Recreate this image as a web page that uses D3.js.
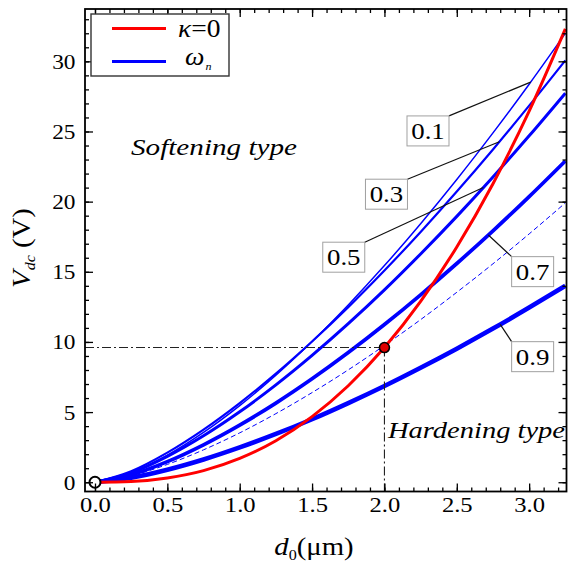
<!DOCTYPE html>
<html>
<head>
<meta charset="utf-8">
<script src="https://cdn.jsdelivr.net/npm/d3@7/dist/d3.min.js"></script>
<style>
  body { margin: 0; background: #fff; }
  svg { display: block; }
  text { font-family: "Liberation Serif", "Times New Roman", serif; fill: #000; }
</style>
</head>
<body>
<svg id="chart" width="568" height="569" font-family="Liberation Serif"></svg>
<script>
// Gap distance d0 (µm) at which each curve is sampled
const gapValues = [0, 0.25, 0.5, 0.75, 1.0, 1.25, 1.5, 1.75, 2.0, 2.25, 2.5, 2.75, 3.0, 3.25];

// DC voltage (V) for the κ = 0 boundary curve
const kappaZeroVdc = [0, 0.05, 0.30, 0.83, 1.70, 2.96, 4.68, 6.88, 9.60, 12.89, 16.77, 21.28, 26.45, 32.31];

// DC voltage (V) for the ω_n curves, one per κ value
const omegaKappa01 = [0, 0.68, 1.93, 3.55, 5.46, 7.63, 10.03, 12.64, 15.44, 18.43, 21.58, 24.90, 28.37, 31.99];
const omegaKappa03 = [0, 0.79, 2.11, 3.75, 5.64, 7.74, 10.03, 12.48, 15.09, 17.84, 20.72, 23.72, 26.84, 30.07];
const omegaKappa05 = [0, 0.67, 1.84, 3.31, 5.02, 6.94, 9.04, 11.30, 13.71, 16.27, 18.95, 21.76, 24.69, 27.73];
const omegaKappa07 = [0, 0.53, 1.47, 2.67, 4.07, 5.64, 7.37, 9.24, 11.24, 13.36, 15.59, 17.92, 20.36, 22.90];
const omegaKappa09 = [0, 0.32, 0.89, 1.62, 2.48, 3.44, 4.49, 5.64, 6.86, 8.16, 9.52, 10.95, 12.45, 14.00];
// thin dashed ω_n curve between κ = 0.7 and κ = 0.9
const omegaDashed  = [0, 0.46, 1.27, 2.31, 3.52, 4.89, 6.39, 8.01, 9.75, 11.59, 13.54, 15.57, 17.70, 19.91];

const kappaLabels = ["0.1", "0.3", "0.5", "0.7", "0.9"];

// Axis ticks
const xMajorTicks = [0, 0.5, 1.0, 1.5, 2.0, 2.5, 3.0];
const xMinorTicks = d3.range(0, 33).map(i => i / 10);
const yMajorTicks = [0, 5, 10, 15, 20, 25, 30];
const yMinorTicks = d3.range(0, 34);

// Transition point where the κ = 0 curve is marked
const transitionPoint = { d: 2.0, v: 9.6 };
const originPoint = { d: 0, v: 0 };

// ---------------------------------------------------------------------
const svg = d3.select("#chart");
const plotLeft = 85, plotRight = 566.5, plotTop = 9, plotBottom = 491.5;

const x = d3.scaleLinear().domain([-0.069, 3.258]).range([plotLeft, plotRight]);
const y = d3.scaleLinear().domain([-0.66, 33.73]).range([plotBottom, plotTop]);

svg.append("defs").append("clipPath").attr("id", "plotClip")
  .append("rect").attr("x", plotLeft).attr("y", plotTop)
  .attr("width", plotRight - plotLeft).attr("height", plotBottom - plotTop);

const toPoints = vals => gapValues.map((d, i) => [d, vals[i]]);
const line = d3.line().x(p => x(p[0])).y(p => y(p[1])).curve(d3.curveMonotoneX);

const plot = svg.append("g").attr("clip-path", "url(#plotClip)");

// reference dash-dot lines through the transition point
const refLines = svg.append("g")
  .attr("stroke", "#222").attr("stroke-width", 1.1)
  .attr("stroke-dasharray", "9,3,2,3").attr("fill", "none");
refLines.append("line")
  .attr("x1", plotLeft).attr("x2", x(transitionPoint.d))
  .attr("y1", y(transitionPoint.v)).attr("y2", y(transitionPoint.v));
refLines.append("line")
  .attr("x1", x(transitionPoint.d)).attr("x2", x(transitionPoint.d))
  .attr("y1", y(transitionPoint.v)).attr("y2", plotBottom);

// ω_n curves
const omegaSeries = [
  { vals: omegaDashed,  width: 1.0, dash: "5,3" },
  { vals: omegaKappa09, width: 4.6 },
  { vals: omegaKappa07, width: 3.7 },
  { vals: omegaKappa05, width: 3.0 },
  { vals: omegaKappa03, width: 2.2 },
  { vals: omegaKappa01, width: 1.5 }
];
omegaSeries.forEach(s => {
  plot.append("path")
    .datum(toPoints(s.vals))
    .attr("d", line)
    .attr("fill", "none")
    .attr("stroke", "#0000ff")
    .attr("stroke-width", s.width)
    .attr("stroke-dasharray", s.dash || null);
});

// κ = 0 curve
plot.append("path")
  .datum(toPoints(kappaZeroVdc))
  .attr("d", line)
  .attr("fill", "none")
  .attr("stroke", "#ff0000")
  .attr("stroke-width", 3);

// markers
svg.append("circle")
  .attr("cx", x(transitionPoint.d)).attr("cy", y(transitionPoint.v)).attr("r", 5)
  .attr("fill", "#e00000").attr("stroke", "#000").attr("stroke-width", 1.6);
svg.append("circle")
  .attr("cx", x(originPoint.d)).attr("cy", y(originPoint.v)).attr("r", 5.5)
  .attr("fill", "#fff").attr("stroke", "#000").attr("stroke-width", 2);

// ---------------------------------------------------------------------
// Axes: ticks point inward on all four sides
function styleAxis(g) {
  g.attr("font-family", null);
  g.select(".domain").remove();
  g.selectAll("line").attr("stroke", "#000").attr("stroke-width", 1.3);
}
const fmtX = d3.format(".1f");

svg.append("g").attr("transform", `translate(0,${plotBottom})`)
  .call(d3.axisBottom(x).tickValues(xMinorTicks).tickSize(-4).tickFormat(""))
  .call(styleAxis);
svg.append("g").attr("transform", `translate(0,${plotBottom})`)
  .call(d3.axisBottom(x).tickValues(xMajorTicks).tickSize(-8).tickPadding(5).tickFormat(fmtX))
  .call(styleAxis)
  .call(g => g.selectAll("text").attr("font-size", 22).attr("transform", "scale(1.12,1)")
    .attr("font-family", "Liberation Serif").attr("fill", "#000"));

svg.append("g").attr("transform", `translate(0,${plotTop})`)
  .call(d3.axisTop(x).tickValues(xMinorTicks).tickSize(-4).tickFormat(""))
  .call(styleAxis);
svg.append("g").attr("transform", `translate(0,${plotTop})`)
  .call(d3.axisTop(x).tickValues(xMajorTicks).tickSize(-8).tickFormat(""))
  .call(styleAxis);

svg.append("g").attr("transform", `translate(${plotLeft},0)`)
  .call(d3.axisLeft(y).tickValues(yMinorTicks).tickSize(-4).tickFormat(""))
  .call(styleAxis);
svg.append("g").attr("transform", `translate(${plotLeft},0)`)
  .call(d3.axisLeft(y).tickValues(yMajorTicks).tickSize(-8).tickPadding(9).tickFormat(d3.format("d")))
  .call(styleAxis)
  .call(g => g.selectAll("text").attr("font-size", 22).attr("transform", "scale(1.06,1)")
    .attr("font-family", "Liberation Serif").attr("fill", "#000"));

svg.append("g").attr("transform", `translate(${plotRight},0)`)
  .call(d3.axisRight(y).tickValues(yMinorTicks).tickSize(-4).tickFormat(""))
  .call(styleAxis);
svg.append("g").attr("transform", `translate(${plotRight},0)`)
  .call(d3.axisRight(y).tickValues(yMajorTicks).tickSize(-8).tickFormat(""))
  .call(styleAxis);

// frame
svg.append("rect")
  .attr("x", plotLeft).attr("y", plotTop)
  .attr("width", plotRight - plotLeft).attr("height", plotBottom - plotTop)
  .attr("fill", "none").attr("stroke", "#000").attr("stroke-width", 1.8);

// ---------------------------------------------------------------------
// Axis titles
const xTitle = svg.append("text")
  .attr("transform", `translate(314,555) scale(1.15,1)`)
  .attr("text-anchor", "middle").attr("font-size", 25);
xTitle.append("tspan").attr("font-style", "italic").text("d");
xTitle.append("tspan").attr("font-size", 14).attr("dy", 5).text("0");
xTitle.append("tspan").attr("dy", -5).text("(μm)");

const yTitle = svg.append("text")
  .attr("transform", `translate(30,248) rotate(-90) scale(1.15,1)`)
  .attr("text-anchor", "middle").attr("font-size", 25);
yTitle.append("tspan").attr("font-style", "italic").text("V");
yTitle.append("tspan").attr("font-style", "italic").attr("font-size", 14).attr("dy", 5).text("dc");
yTitle.append("tspan").attr("dy", -5).text(" (V)");

// Region notes
svg.append("text")
  .attr("x", 131).attr("y", 155).attr("font-size", 23).attr("font-style", "italic")
  .attr("textLength", 166).attr("lengthAdjust", "spacingAndGlyphs")
  .text("Softening type");
svg.append("text")
  .attr("x", 388).attr("y", 438).attr("font-size", 23).attr("font-style", "italic")
  .attr("textLength", 177).attr("lengthAdjust", "spacingAndGlyphs")
  .text("Hardening type");

// ---------------------------------------------------------------------
// κ labels with leader lines to their curves
const curveByLabel = {
  "0.1": omegaKappa01, "0.3": omegaKappa03, "0.5": omegaKappa05,
  "0.7": omegaKappa07, "0.9": omegaKappa09
};
function valueAt(vals, d) {
  const i = Math.min(d3.bisectRight(gapValues, d), gapValues.length - 1);
  const d0 = gapValues[i - 1], d1 = gapValues[i];
  const t = (d - d0) / (d1 - d0);
  return vals[i - 1] + t * (vals[i] - vals[i - 1]);
}
// box centre (data coords), which corner the leader starts from, and where it meets the curve
const labelPlacement = {
  "0.1": { d: 2.301, v: 25.04, corner: "right", target: 3.01 },
  "0.3": { d: 2.014, v: 20.53, corner: "right", target: 2.794 },
  "0.5": { d: 1.719, v: 16.04, corner: "right", target: 2.683 },
  "0.7": { d: 3.024, v: 15.01, corner: "left",  target: 2.718 },
  "0.9": { d: 3.024, v: 8.95,  corner: "left",  target: 2.80 }
};
const boxW = 42, boxH = 30;
kappaLabels.forEach(lbl => {
  const p = labelPlacement[lbl];
  const cx = x(p.d), cy = y(p.v);
  const sx = p.corner === "right" ? cx + boxW / 2 : cx - boxW / 2;
  const sy = cy - boxH / 2;
  const tx = x(p.target), ty = y(valueAt(curveByLabel[lbl], p.target));
  svg.append("line")
    .attr("x1", sx).attr("y1", sy).attr("x2", tx).attr("y2", ty)
    .attr("stroke", "#111").attr("stroke-width", 1.2);
  svg.append("rect")
    .attr("x", cx - boxW / 2).attr("y", cy - boxH / 2)
    .attr("width", boxW).attr("height", boxH)
    .attr("fill", "#fff").attr("stroke", "#a0a0a0").attr("stroke-width", 1);
  svg.append("text")
    .attr("transform", `translate(${cx},${cy + 8}) scale(1.12,1)`)
    .attr("text-anchor", "middle").attr("font-size", 24)
    .text(lbl);
});

// ---------------------------------------------------------------------
// Legend
const legend = svg.append("g");
legend.append("rect")
  .attr("x", 91).attr("y", 14).attr("width", 138).attr("height", 62)
  .attr("fill", "#fff").attr("stroke", "#333").attr("stroke-width", 1.4);
legend.append("line").attr("x1", 112).attr("x2", 166).attr("y1", 28.5).attr("y2", 28.5)
  .attr("stroke", "#ff0000").attr("stroke-width", 3);
legend.append("line").attr("x1", 112).attr("x2", 166).attr("y1", 61.5).attr("y2", 61.5)
  .attr("stroke", "#0000ff").attr("stroke-width", 3);
const k0 = legend.append("text")
  .attr("transform", "translate(178,37) scale(1.1,1)").attr("font-size", 25);
k0.append("tspan").attr("font-style", "italic").text("κ");
k0.append("tspan").text("=0");
const wn = legend.append("text")
  .attr("transform", "translate(185,65) scale(1.1,1)").attr("font-size", 25);
wn.append("tspan").attr("font-style", "italic").text("ω");
wn.append("tspan").attr("font-style", "italic").attr("font-size", 11).attr("dy", 5).attr("dx", 1).text("n");
</script>
</body>
</html>
